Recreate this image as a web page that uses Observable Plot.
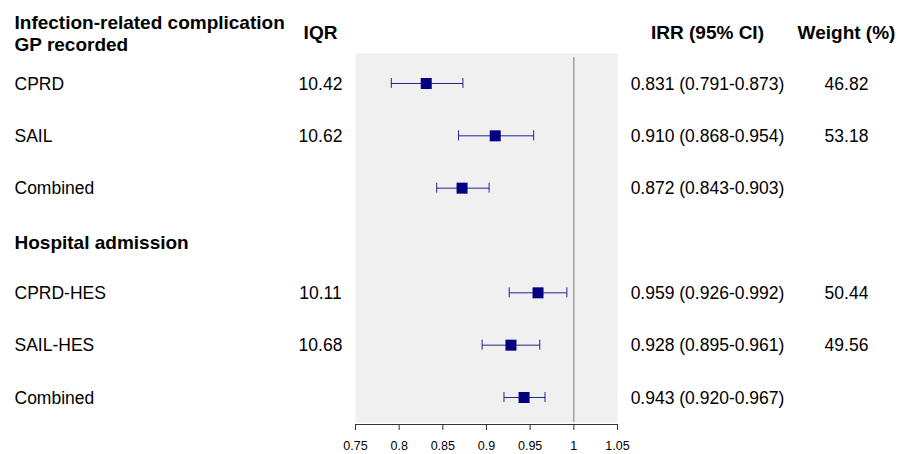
<!DOCTYPE html>
<html>
<head>
<meta charset="utf-8">
<script src="https://cdn.jsdelivr.net/npm/d3@7"></script>
<script src="https://cdn.jsdelivr.net/npm/@observablehq/plot@0.6"></script>
<style>
  html, body { margin: 0; padding: 0; background: #ffffff; }
  #chart { width: 901px; height: 454px; }
</style>
</head>
<body>
<div id="chart"></div>
<script>
// ---- data ----
const studies = ["CPRD", "SAIL", "Combined", "CPRD-HES", "SAIL-HES", "Combined"];
const rows = [0, 1, 2, 4, 5, 6];
const irr = [0.831, 0.910, 0.872, 0.959, 0.928, 0.943];
const lower = [0.791, 0.868, 0.843, 0.926, 0.895, 0.920];
const upper = [0.873, 0.954, 0.903, 0.992, 0.961, 0.967];
const iqr = ["10.42", "10.62", "", "10.11", "10.68", ""];
const weight = ["46.82", "53.18", "", "50.44", "49.56", ""];

const groupLabels = ["Infection-related complication\nGP recorded", "Hospital admission"];
const groupRows = [-1, 3];

const headerRow = -1;
const iqrHeader = "IQR";
const irrHeader = "IRR (95% CI)";
const weightHeader = "Weight (%)";

const xTicks = [0.75, 0.8, 0.85, 0.9, 0.95, 1, 1.05];
const xTickLabels = ["0.75", "0.8", "0.85", "0.9", "0.95", "1", "1.05"];
const nullValue = 1;

// ---- tables built from arrays ----
const data = studies.map((s, i) => ({
  label: s, row: rows[i], irr: irr[i], lo: lower[i], hi: upper[i],
  iqr: iqr[i], weight: weight[i],
  ci: `${irr[i].toFixed(3)} (${lower[i].toFixed(3)}-${upper[i].toFixed(3)})`
}));
const groups = groupLabels.map((g, i) => ({label: g, row: groupRows[i]}));
const headers = [{row: headerRow, iqr: iqrHeader, irr: irrHeader, weight: weightHeader}];

const yTop = -0.573, yBottom = 6.516;
const cap = 0.095;
const navy = "#000080";
const regular = 17.5, bold = 19;

const chart = Plot.plot({
  width: 901,
  height: 454,
  marginLeft: 355,
  marginRight: 284,
  marginTop: 53,
  marginBottom: 30,
  style: {fontFamily: "'Liberation Sans', Arial, Helvetica, sans-serif", fontSize: "12.5px", background: "#ffffff", color: "#000000"},
  x: {domain: [0.75, 1.05], axis: null},
  y: {domain: [yBottom, yTop], range: [424, 53], axis: null},
  marks: [
    Plot.frame({fill: "#f0f0f0", stroke: "none", insetBottom: 2}),
    Plot.ruleX([nullValue], {stroke: "#7a7a7a", strokeWidth: 1, insetTop: 4, insetBottom: 2}),
    Plot.link(data, {x1: "lo", x2: "hi", y1: "row", y2: "row", stroke: navy, strokeWidth: 1, strokeOpacity: 0.85}),
    Plot.ruleX(data, {x: "lo", y1: d => d.row - cap, y2: d => d.row + cap, stroke: navy, strokeWidth: 1, strokeOpacity: 0.85}),
    Plot.ruleX(data, {x: "hi", y1: d => d.row - cap, y2: d => d.row + cap, stroke: navy, strokeWidth: 1, strokeOpacity: 0.85}),
    Plot.dot(data, {x: "irr", y: "row", symbol: "square", r: 6.2, fill: navy, stroke: "none"}),
    Plot.ruleY([yBottom], {stroke: "#333333", strokeWidth: 1}),
    Plot.axisX({ticks: xTicks, tickFormat: d => xTickLabels[xTicks.indexOf(d)], tickSize: 6, tickPadding: 11, fontSize: 12.5, stroke: "#333333", anchor: "bottom"}),
    // study labels
    Plot.text(data, {y: "row", text: "label", frameAnchor: "left", textAnchor: "start", dx: -341, dy: 0.5, fontSize: regular, fill: "#000000"}),
    // group headings
    Plot.text(groups, {y: "row", text: "label", frameAnchor: "left", textAnchor: "start", dx: -341, dy: 1.5, fontSize: bold, fontWeight: "bold", lineHeight: 1.2, fill: "#000000"}),
    // IQR column
    Plot.text(data, {y: "row", text: "iqr", frameAnchor: "left", textAnchor: "middle", dx: -35, dy: 0.5, fontSize: regular, fill: "#000000"}),
    // IRR column
    Plot.text(data, {y: "row", text: "ci", frameAnchor: "right", textAnchor: "middle", dx: 90, dy: 0.5, fontSize: regular, fill: "#000000"}),
    // Weight column
    Plot.text(data, {y: "row", text: "weight", frameAnchor: "right", textAnchor: "middle", dx: 229, dy: 0.5, fontSize: regular, fill: "#000000"}),
    // headers
    Plot.text(headers, {y: "row", text: "iqr", frameAnchor: "left", textAnchor: "middle", dx: -35, dy: 1.5, fontSize: bold, fontWeight: "bold", fill: "#000000"}),
    Plot.text(headers, {y: "row", text: "irr", frameAnchor: "right", textAnchor: "middle", dx: 90, dy: 1.5, fontSize: bold, fontWeight: "bold", fill: "#000000"}),
    Plot.text(headers, {y: "row", text: "weight", frameAnchor: "right", textAnchor: "middle", dx: 229, dy: 1.5, fontSize: bold, fontWeight: "bold", fill: "#000000"})
  ]
});
document.getElementById("chart").appendChild(chart);
</script>
</body>
</html>
